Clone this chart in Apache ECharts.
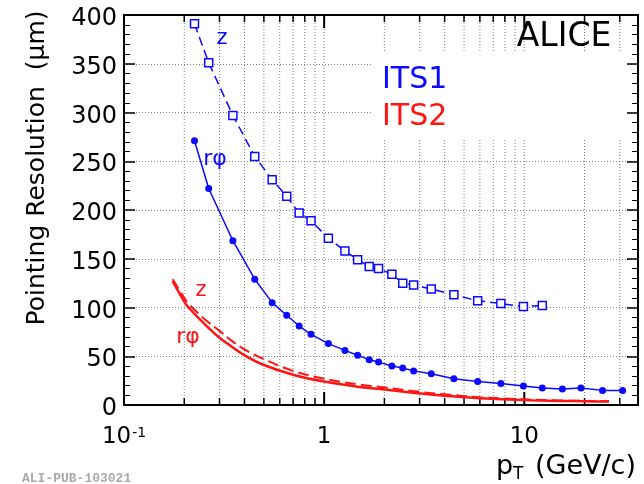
<!DOCTYPE html>
<html>
<head>
<meta charset="utf-8">
<script src="https://cdn.jsdelivr.net/npm/echarts@6/dist/echarts.min.js"></script>
<style>
  html, body { margin: 0; padding: 0; background: #fff; }
  #chart { width: 644px; height: 484px; }
</style>
</head>
<body>
<div id="chart"></div>
<script>
// ITS1 measured pointing resolution, bin centres in pT (GeV/c)
const ptITS1 = [0.225, 0.265, 0.35, 0.45, 0.55, 0.65, 0.75, 0.86, 1.05, 1.27, 1.47, 1.68, 1.87,
                2.18, 2.47, 2.8, 3.43, 4.45, 5.85, 7.64, 9.9, 12.3, 15.5, 19.2, 24.6, 31];
// r-phi resolution (um), one value per pT bin
const its1RPhi = [271, 222, 168.5, 129, 105, 92, 81, 72.5, 63, 56, 51, 46.5, 44,
                  40, 38, 35, 32, 27, 24, 22, 19.5, 17.5, 16.5, 17.5, 15, 15];
// z resolution (um), measured up to ~12 GeV/c
const its1Z = [391, 351, 297, 255, 231, 214, 197, 189, 171, 158, 149, 142, 140,
               134, 125, 123, 119, 113, 107, 104, 101, 102];

// ITS2 expected resolution curves
const ptITS2 = [0.175, 0.2, 0.21, 0.25, 0.3, 0.35, 0.4, 0.5, 0.7, 1, 1.5, 2, 3, 4, 6, 10, 15, 20, 26.5];
const its2RPhi = [127, 106, 100, 84, 69, 59, 51, 41, 31, 24, 18.5, 15.8, 11.8, 9.4, 7, 5, 4.2, 3.8, 3.5];
const its2Z = [129, 110, 104, 89, 76, 65, 57, 47, 35, 27, 21, 18, 13.5, 11, 8, 5.8, 4.6, 4.2, 3.9];

// x-axis decade labels and sub-decade tick positions
const xMajorTicks = [0.1, 1, 10];
const xMajorLabels = ['10{sup|-1}', '1', '10'];
const xMinorTicks = [0.2, 0.3, 0.4, 0.5, 0.6, 0.7, 0.8, 0.9, 2, 3, 4, 5, 6, 7, 8, 9, 20, 30];

const FONT = "'DejaVu Sans', sans-serif";
const BLUE = '#0a0aff';
const RED = '#ff1414';

const chart = echarts.init(document.getElementById('chart'), null, { renderer: 'canvas' });

function xLabel(v) {
  for (let i = 0; i < xMajorTicks.length; i++) {
    if (Math.abs(Math.log10(v) - Math.log10(xMajorTicks[i])) < 1e-6) return xMajorLabels[i];
  }
  return '';
}

// vertical dotted grid plus inward tick marks on bottom and top frame
const xTickData = xMinorTicks.map(v => [v, 0, 0]).concat([1, 10].map(v => [v, 0, 1]));

function renderXTick(params, api) {
  const v = api.value(0);
  const major = api.value(2) === 1;
  const b = api.coord([v, 0]);
  const t = api.coord([v, 400]);
  const len = major ? 13 : 7;
  return {
    type: 'group',
    children: [
      { type: 'line', shape: { x1: b[0], y1: b[1], x2: t[0], y2: t[1] },
        style: { stroke: '#808080', lineWidth: 1, lineDash: [1, 2] } },
      { type: 'line', shape: { x1: b[0], y1: b[1], x2: b[0], y2: b[1] - len },
        style: { stroke: '#000', lineWidth: major ? 2 : 1.5 } },
      { type: 'line', shape: { x1: t[0], y1: t[1], x2: t[0], y2: t[1] + len },
        style: { stroke: '#000', lineWidth: major ? 2 : 1.5 } }
    ]
  };
}

const frameLine = { show: true, onZero: false, lineStyle: { color: '#000', width: 2 } };

const option = {
  animation: false,
  backgroundColor: '#fff',
  grid: { left: 124, right: 6, top: 15, bottom: 79 },
  xAxis: [
    {
      type: 'log', logBase: 10, min: 0.1, max: 37, position: 'bottom',
      axisLine: frameLine,
      axisTick: { show: false },
      splitLine: { show: false },
      axisLabel: {
        show: true, margin: 21, showMaxLabel: false, showMinLabel: true,
        formatter: xLabel,
        color: '#000', fontFamily: FONT, fontSize: 23,
        rich: {
          sup: { fontFamily: FONT, fontSize: 14, verticalAlign: 'top', lineHeight: 14, color: '#000', padding: [0, 0, 0, 1] }
        }
      }
    },
    {
      type: 'log', logBase: 10, min: 0.1, max: 37, position: 'top',
      axisLine: frameLine, axisTick: { show: false }, axisLabel: { show: false }, splitLine: { show: false }
    }
  ],
  yAxis: [
    {
      type: 'value', min: 0, max: 400, interval: 50, position: 'left',
      axisLine: frameLine,
      axisTick: { show: true, inside: true, length: 11, lineStyle: { color: '#000', width: 1.5 } },
      minorTick: { show: true, splitNumber: 5, length: 6, lineStyle: { color: '#000', width: 1 } },
      splitLine: { show: true, lineStyle: { color: '#808080', width: 1, type: [1, 2] } },
      axisLabel: {
        color: '#000', margin: 7,
        formatter: '{v|{value}}',
        rich: { v: { fontFamily: FONT, fontSize: 24, color: '#000', padding: [8, 0, 0, 0] } }
      }
    },
    {
      type: 'value', min: 0, max: 400, interval: 50, position: 'right',
      axisLine: frameLine,
      axisTick: { show: true, inside: true, length: 11, lineStyle: { color: '#000', width: 1.5 } },
      minorTick: { show: true, splitNumber: 5, length: 6, lineStyle: { color: '#000', width: 1 } },
      splitLine: { show: false },
      axisLabel: { show: false }
    }
  ],
  series: [
    {
      type: 'custom', name: 'xgrid', silent: true, z: 1,
      xAxisIndex: 0, yAxisIndex: 0,
      encode: { x: 0, y: 1 },
      data: xTickData,
      renderItem: renderXTick
    },
    {
      type: 'line', name: 'ITS2 r\u03c6', z: 5,
      data: ptITS2.map((p, i) => [p, its2RPhi[i]]),
      smooth: 0.4, showSymbol: false, symbol: 'none',
      lineStyle: { color: RED, width: 2.5 }
    },
    {
      type: 'line', name: 'ITS2 z', z: 5,
      data: ptITS2.map((p, i) => [p, its2Z[i]]),
      smooth: 0.4, showSymbol: false, symbol: 'none',
      lineStyle: { color: RED, width: 2, type: [11, 5] }
    },
    {
      type: 'line', name: 'ITS1 z', z: 6,
      data: its1Z.map((v, i) => [ptITS1[i], v]),
      symbol: 'rect', symbolSize: 8,
      itemStyle: { color: '#fff', borderColor: BLUE, borderWidth: 1.5 },
      lineStyle: { color: BLUE, width: 1.5, type: [9, 5] }
    },
    {
      type: 'line', name: 'ITS1 r\u03c6', z: 6,
      data: its1RPhi.map((v, i) => [ptITS1[i], v]),
      symbol: 'circle', symbolSize: 7,
      itemStyle: { color: BLUE },
      lineStyle: { color: BLUE, width: 1.5 }
    }
  ],
  graphic: [
    // legend panel hides the grid behind it
    { type: 'rect', z: 3, silent: true, shape: { x: 372, y: 53, width: 255, height: 87 }, style: { fill: '#fff' } },
    { type: 'text', z: 10, x: 564, y: 37, style: { text: 'ALICE', fill: '#000', font: "33px 'DejaVu Sans', sans-serif", align: 'center', verticalAlign: 'middle' } },
    { type: 'text', z: 10, x: 382, y: 80, style: { text: 'ITS1', fill: BLUE, font: "30px 'DejaVu Sans', sans-serif", align: 'left', verticalAlign: 'middle' } },
    { type: 'text', z: 10, x: 382, y: 117, style: { text: 'ITS2', fill: RED, font: "30px 'DejaVu Sans', sans-serif", align: 'left', verticalAlign: 'middle' } },
    { type: 'text', z: 10, x: 222, y: 39, style: { text: 'z', fill: BLUE, font: "21px 'DejaVu Sans', sans-serif", align: 'center', verticalAlign: 'middle' } },
    { type: 'text', z: 10, x: 215, y: 159, style: { text: 'r\u03c6', fill: BLUE, font: "22px 'DejaVu Sans', sans-serif", align: 'center', verticalAlign: 'middle' } },
    { type: 'text', z: 10, x: 201, y: 291, style: { text: 'z', fill: RED, font: "21px 'DejaVu Sans', sans-serif", align: 'center', verticalAlign: 'middle' } },
    { type: 'text', z: 10, x: 188, y: 337, style: { text: 'r\u03c6', fill: RED, font: "22px 'DejaVu Sans', sans-serif", align: 'center', verticalAlign: 'middle' } },
    { type: 'text', z: 10, x: 37, y: 168, rotation: Math.PI / 2,
      style: { text: 'Pointing Resolution  (\u03bcm)', fill: '#000', font: "25px 'DejaVu Sans', sans-serif", align: 'center', verticalAlign: 'middle' } },
    { type: 'text', z: 10, x: 636, y: 467,
      style: { text: 'p{sub|T} (GeV/c)', fill: '#000', font: "27px 'DejaVu Sans', sans-serif", align: 'right', verticalAlign: 'middle',
        rich: { sub: { font: "17px 'DejaVu Sans', sans-serif", fill: '#000', verticalAlign: 'bottom', padding: [15, 3, 0, 0] } } } },
    { type: 'text', z: 10, x: 22, y: 479, style: { text: 'ALI-PUB-103021', fill: '#aaaaaa', font: "bold 13px 'Liberation Mono', monospace", align: 'left', verticalAlign: 'middle' } }
  ]
};

chart.setOption(option);
</script>
</body>
</html>
